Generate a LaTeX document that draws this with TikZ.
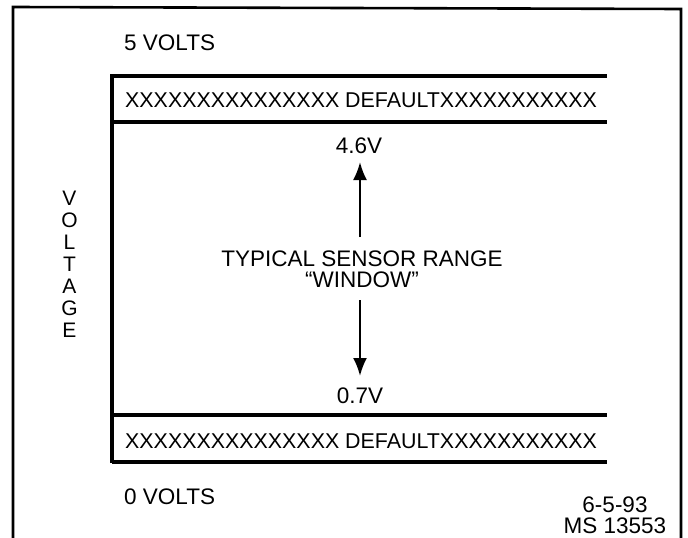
\documentclass[tikz,border=0pt]{standalone}
\usepackage{fontspec}
\setmainfont{Liberation Sans}
\usetikzlibrary{arrows.meta}
\begin{document}
\begin{tikzpicture}[x=1pt,y=-1pt,
  lbl/.style={inner sep=0pt, font=\fontsize{22.5}{21}\selectfont},
  xrow/.style={inner sep=0pt, font=\fontsize{21.4}{21}\selectfont},
  frame/.style={line width=2.6pt},
  bar/.style={line width=3.6pt},
  arr/.style={line width=2.3pt, -{Latex[length=18pt,width=14pt]}}]
\useasboundingbox (0,0) rectangle (688,538);
% outer frame (bottom edge cut off)
\draw[frame] (13,540) -- (13,7) -- (681,9) -- (681,540);
% inner band lines
\draw[bar] (112,463) -- (112,76) -- (607,76);
\draw[bar] (112,122) -- (607,122);
\draw[bar] (112,415) -- (607,415);
\draw[bar] (112,462) -- (607,462);
% labels
\node[lbl, anchor=west] (five) at (124,43) {5 VOLTS};
\node[xrow, anchor=west] (deftop) at (125,100) {XXXXXXXXXXXXXXX DEFAULTXXXXXXXXXXX};
\node[xrow, anchor=west] (defbot) at (125,441) {XXXXXXXXXXXXXXX DEFAULTXXXXXXXXXXX};
\node[lbl, anchor=west] (zero) at (124,497) {0 VOLTS};
\node[lbl] (v46) at (359,146) {4.6V};
\node[lbl] (v07) at (360,396) {0.7V};
\node[lbl, align=center] (typ) at (362,269) {TYPICAL SENSOR RANGE\\“WINDOW”};
\node[lbl, align=center] (ms) at (615,515) {6-5-93\\MS 13553};
\node[inner sep=0pt, align=center, font=\fontsize{21}{22}\selectfont] (volt) at (69.5,264) {V\\O\\L\\T\\A\\G\\E};
% arrows
\coordinate (upTail) at (360,237);
\coordinate (upTip) at (360,162);
\coordinate (dnTail) at (360,300);
\coordinate (dnTip) at (360,376);
\draw[arr] (upTail) -- (upTip);
\draw[arr] (dnTail) -- (dnTip);
\end{tikzpicture}
\end{document}
